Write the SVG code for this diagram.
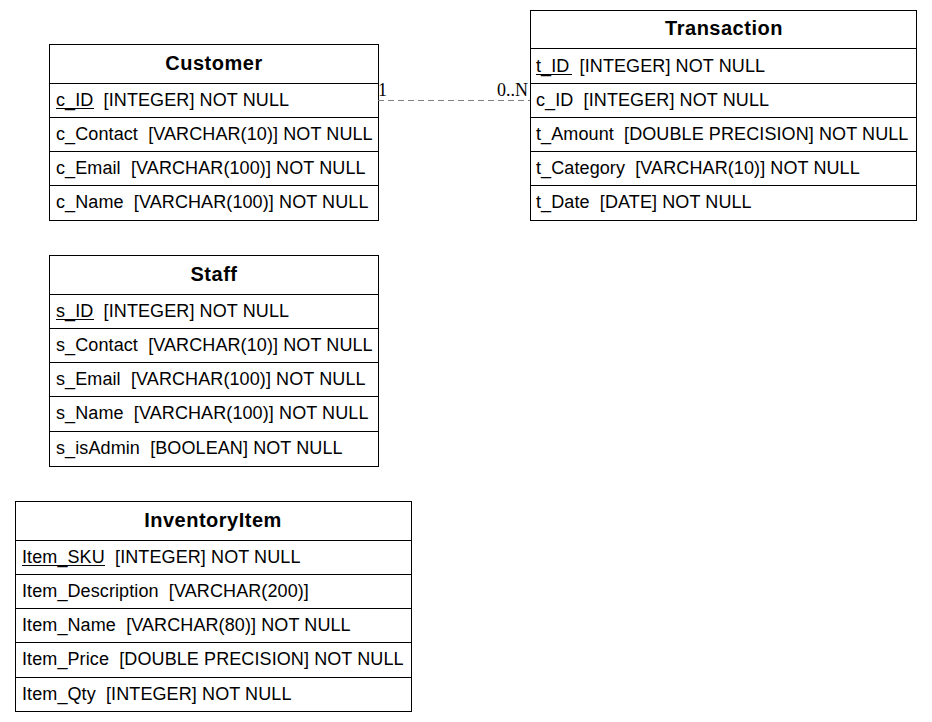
<svg xmlns="http://www.w3.org/2000/svg" width="932" height="722" viewBox="0 0 932 722">
<style>
text{white-space:pre}
.box{fill:#fff;stroke:#000;stroke-width:1}
.sep{stroke:#000;stroke-width:1}
.h{font-family:"Liberation Sans",Arial,sans-serif;font-size:20px;font-weight:bold;letter-spacing:0.5px;text-anchor:middle;fill:#000}
.f{font-family:"Liberation Sans",Arial,sans-serif;font-size:18px;letter-spacing:0.1px;fill:#000}
.u{stroke:#000;stroke-width:1}
.conn{stroke:#808080;stroke-width:1;stroke-dasharray:6,4;fill:none}
.lbl{font-family:"Liberation Serif","Times New Roman",serif;font-size:18px;fill:#000}
</style>
<rect width="932" height="722" fill="#fff"/>
<g id="Customer">
<rect class="box" x="49.5" y="44.5" width="329" height="176"/>
<line class="sep" x1="49" y1="83.5" x2="378" y2="83.5"/>
<line class="sep" x1="49" y1="117.5" x2="378" y2="117.5"/>
<line class="sep" x1="49" y1="151.5" x2="378" y2="151.5"/>
<line class="sep" x1="49" y1="185.5" x2="378" y2="185.5"/>
<text class="h" x="214" y="70">Customer</text>
<text class="f" x="56" y="106">c_ID  [INTEGER] NOT NULL</text>
<line class="u" x1="56" y1="108.5" x2="94" y2="108.5"/>
<text class="f" x="56" y="140">c_Contact  [VARCHAR(10)] NOT NULL</text>
<text class="f" x="56" y="174">c_Email  [VARCHAR(100)] NOT NULL</text>
<text class="f" x="56" y="208">c_Name  [VARCHAR(100)] NOT NULL</text>
</g>
<g id="Transaction">
<rect class="box" x="530.5" y="10.5" width="386" height="210"/>
<line class="sep" x1="530" y1="48.5" x2="916" y2="48.5"/>
<line class="sep" x1="530" y1="83.5" x2="916" y2="83.5"/>
<line class="sep" x1="530" y1="117.5" x2="916" y2="117.5"/>
<line class="sep" x1="530" y1="151.5" x2="916" y2="151.5"/>
<line class="sep" x1="530" y1="185.5" x2="916" y2="185.5"/>
<text class="h" x="724" y="35">Transaction</text>
<text class="f" x="536" y="72">t_ID  [INTEGER] NOT NULL</text>
<line class="u" x1="536" y1="74.5" x2="572" y2="74.5"/>
<text class="f" x="536" y="106">c_ID  [INTEGER] NOT NULL</text>
<text class="f" x="536" y="140">t_Amount  [DOUBLE PRECISION] NOT NULL</text>
<text class="f" x="536" y="174">t_Category  [VARCHAR(10)] NOT NULL</text>
<text class="f" x="536" y="208">t_Date  [DATE] NOT NULL</text>
</g>
<g id="Staff">
<rect class="box" x="49.5" y="255.5" width="329" height="211"/>
<line class="sep" x1="49" y1="294.5" x2="378" y2="294.5"/>
<line class="sep" x1="49" y1="328.5" x2="378" y2="328.5"/>
<line class="sep" x1="49" y1="362.5" x2="378" y2="362.5"/>
<line class="sep" x1="49" y1="396.5" x2="378" y2="396.5"/>
<line class="sep" x1="49" y1="431.5" x2="378" y2="431.5"/>
<text class="h" x="214" y="281">Staff</text>
<text class="f" x="56" y="317">s_ID  [INTEGER] NOT NULL</text>
<line class="u" x1="56" y1="319.5" x2="94" y2="319.5"/>
<text class="f" x="56" y="351">s_Contact  [VARCHAR(10)] NOT NULL</text>
<text class="f" x="56" y="385">s_Email  [VARCHAR(100)] NOT NULL</text>
<text class="f" x="56" y="419">s_Name  [VARCHAR(100)] NOT NULL</text>
<text class="f" x="56" y="454">s_isAdmin  [BOOLEAN] NOT NULL</text>
</g>
<g id="InventoryItem">
<rect class="box" x="15.5" y="501.5" width="396" height="210"/>
<line class="sep" x1="15" y1="540.5" x2="411" y2="540.5"/>
<line class="sep" x1="15" y1="574.5" x2="411" y2="574.5"/>
<line class="sep" x1="15" y1="608.5" x2="411" y2="608.5"/>
<line class="sep" x1="15" y1="642.5" x2="411" y2="642.5"/>
<line class="sep" x1="15" y1="677.5" x2="411" y2="677.5"/>
<text class="h" x="213" y="527">InventoryItem</text>
<text class="f" x="22" y="563">Item_SKU  [INTEGER] NOT NULL</text>
<line class="u" x1="22" y1="565.5" x2="105" y2="565.5"/>
<text class="f" x="22" y="597">Item_Description  [VARCHAR(200)]</text>
<text class="f" x="22" y="631">Item_Name  [VARCHAR(80)] NOT NULL</text>
<text class="f" x="22" y="665">Item_Price  [DOUBLE PRECISION] NOT NULL</text>
<text class="f" x="22" y="700">Item_Qty  [INTEGER] NOT NULL</text>
</g>
<g id="connectors">
<line class="conn" x1="378" y1="100.5" x2="530" y2="100.5"/>
<text class="lbl" x="378" y="96">1</text>
<text class="lbl" x="528" y="96" text-anchor="end">0..N</text>
</g>
</svg>
